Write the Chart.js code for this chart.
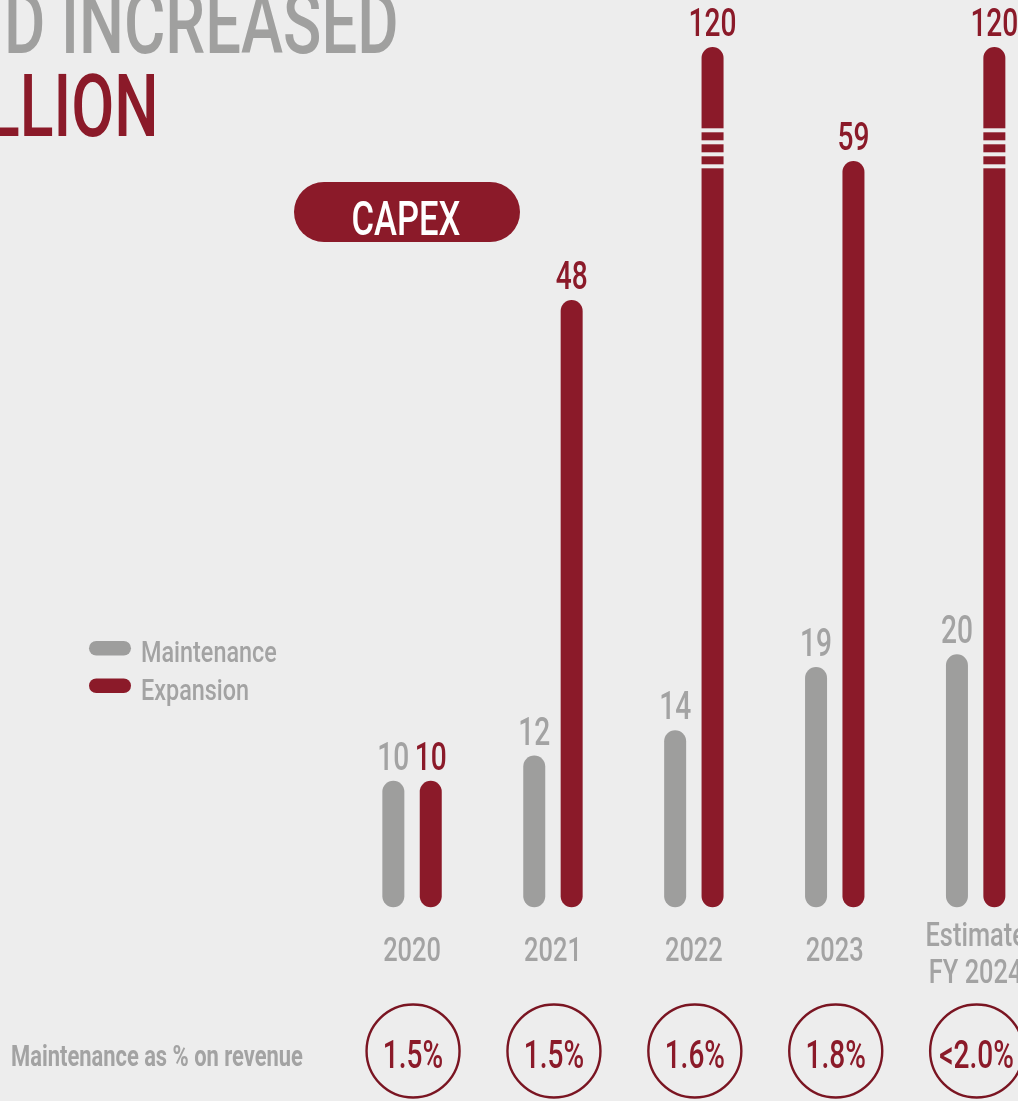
<!DOCTYPE html>
<html>
<head>
<meta charset="utf-8">
<title>CAPEX</title>
<script src="https://cdn.jsdelivr.net/npm/chart.js@4.4.1/dist/chart.umd.min.js"></script>
<style>
  html, body { margin: 0; padding: 0; background: #ededed; overflow: hidden; }
  #wrap { width: 1018px; height: 1101px; overflow: hidden; position: relative; }
  canvas { display: block; position: absolute; left: 0; top: 0; }
</style>
</head>
<body>
<div id="wrap"><canvas id="chart" width="1060" height="1101"></canvas></div>
<script>
// ---- data ----
const categories = ['2020', '2021', '2022', '2023', ['Estimate', 'FY 2024']];
const maintenance = [10, 12, 14, 19, 20];
const expansion = [10, 48, 120, 59, 120];
const revenueShare = ['1.5%', '1.5%', '1.6%', '1.8%', '<2.0%'];
const seriesNames = ['Maintenance', 'Expansion'];
const titleLines = ['D INCREASED', 'LLION'];
const badgeText = 'CAPEX';
const footLabel = 'Maintenance as % on revenue';

// ---- palette ----
const BG = '#ededed';
const GREY = '#9e9e9d';
const GREY_TEXT = '#a3a3a3';
const RED = '#8b1a29';
const RED_DARK = '#7a1522';
const FONT = 'Roboto, "Liberation Sans", sans-serif';

// Linear scale with a collapsed band, so very tall bars are shortened and marked as broken.
class BrokenLinearScale extends Chart.LinearScale {
  squash(v) {
    const br = this.options.axisBreak;
    if (!br) return v;
    const [lo, hi] = br;
    if (v <= lo) return v;
    if (v >= hi) return lo + (v - hi);
    return lo;
  }
  getPixelForValue(value) {
    if (value === null || value === undefined) return NaN;
    return super.getPixelForValue(this.squash(value));
  }
}
BrokenLinearScale.id = 'brokenLinear';
BrokenLinearScale.defaults = Chart.LinearScale.defaults;
Chart.register(BrokenLinearScale);

// condensed text: scale glyphs horizontally
function text(ctx, str, x, y, o) {
  ctx.save();
  ctx.font = `${o.weight || 400} ${o.size}px ${FONT}`;
  ctx.fillStyle = o.color;
  ctx.textBaseline = 'alphabetic';
  ctx.textAlign = 'left';
  const sx = o.sx || 0.74;
  const w = ctx.measureText(str).width * sx;
  let left = x;
  if (o.align === 'center') left = x - w / 2;
  else if (o.align === 'right') left = x - w;
  ctx.translate(left, y);
  ctx.scale(sx, 1);
  ctx.fillText(str, 0, 0);
  ctx.restore();
}

function pill(ctx, x, y, w, h, color) {
  const r = h / 2;
  ctx.beginPath();
  ctx.moveTo(x + r, y);
  ctx.lineTo(x + w - r, y);
  ctx.arc(x + w - r, y + r, r, -Math.PI / 2, Math.PI / 2);
  ctx.lineTo(x + r, y + h);
  ctx.arc(x + r, y + r, r, Math.PI / 2, Math.PI * 1.5);
  ctx.closePath();
  ctx.fillStyle = color;
  ctx.fill();
}

const decor = {
  id: 'decor',
  afterDatasetsDraw(chart) {
    const ctx = chart.ctx;
    const xs = chart.scales.x;
    const ys = chart.scales.y;
    const br = ys.options.axisBreak;

    // break marks on shortened bars
    const breakPx = ys.getPixelForValue(br[0]);
    chart.data.datasets.forEach((ds, di) => {
      const meta = chart.getDatasetMeta(di);
      meta.data.forEach((bar, i) => {
        const v = ds.data[i];
        if (v > br[0]) {
          ctx.save();
          ctx.fillStyle = BG;
          [-18, -6, 6, 18].forEach(off => {
            ctx.fillRect(bar.x - bar.width / 2 - 1, breakPx + off - 2, bar.width + 2, 4);
          });
          ctx.restore();
        }
        // value label
        const isRed = di === 1;
        text(ctx, String(v), bar.x, bar.y - 11, {
          size: 38, weight: 500, color: isRed ? RED : GREY_TEXT, sx: 0.74, align: 'center'
        });
      });
    });

    // category labels
    categories.forEach((c, i) => {
      const cx = xs.getPixelForValue(i);
      if (Array.isArray(c)) {
        text(ctx, c[0], cx, 946, { size: 33, weight: 500, color: GREY_TEXT, sx: 0.77, align: 'center' });
        text(ctx, c[1], cx, 983, { size: 33, weight: 500, color: GREY_TEXT, sx: 0.77, align: 'center' });
      } else {
        text(ctx, c, cx, 961, { size: 33, weight: 500, color: GREY_TEXT, sx: 0.77, align: 'center' });
      }
    });

    // share-of-revenue circles
    revenueShare.forEach((s, i) => {
      const cx = xs.getPixelForValue(i) + 1;
      ctx.save();
      ctx.beginPath();
      ctx.arc(cx, 1051, 46.5, 0, Math.PI * 2);
      ctx.lineWidth = 2.4;
      ctx.strokeStyle = RED_DARK;
      ctx.stroke();
      ctx.restore();
      text(ctx, s, cx, 1068, { size: 39, weight: 500, color: RED, sx: 0.72, align: 'center' });
    });
    text(ctx, footLabel, 11, 1066, { size: 30, weight: 700, color: GREY_TEXT, sx: 0.73 });

    // legend
    chart.data.datasets.forEach((ds, di) => {
      const y = 641 + di * 37.5;
      pill(ctx, 89, y, 42, 14.5, ds.backgroundColor);
      text(ctx, ds.label, 141, y + 21, { size: 30, weight: 500, color: GREY_TEXT, sx: 0.78 });
    });

    // badge
    pill(ctx, 294, 182, 226, 60, RED);
    text(ctx, badgeText, 406, 234.5, { size: 48, weight: 500, color: '#ffffff', sx: 0.72, align: 'center' });

    // headline
    text(ctx, titleLines[0], 4, 52.7, { size: 88, weight: 500, color: '#a0a09f', sx: 0.72 });
    text(ctx, titleLines[1], -14, 135.7, { size: 88, weight: 500, color: RED, sx: 0.71 });
  }
};

new Chart(document.getElementById('chart'), {
  type: 'bar',
  data: {
    labels: categories,
    datasets: [
      { label: seriesNames[0], data: maintenance, backgroundColor: GREY },
      { label: seriesNames[1], data: expansion, backgroundColor: RED }
    ]
  },
  options: {
    responsive: false,
    animation: false,
    devicePixelRatio: 1,
    layout: { padding: { left: 341.6, right: 13.9, top: 21.8, bottom: 193.7 } },
    datasets: {
      bar: {
        categoryPercentage: 0.531,
        barPercentage: 0.588,
        borderRadius: 20,
        borderSkipped: false,
        clip: false
      }
    },
    scales: {
      x: { type: 'category', display: false, grid: { display: false } },
      y: { type: 'brokenLinear', display: false, min: 0, max: 70, axisBreak: [60, 112], grid: { display: false } }
    },
    plugins: {
      legend: { display: false },
      tooltip: { enabled: false },
      title: { display: false }
    }
  },
  plugins: [decor]
});
</script>
</body>
</html>
